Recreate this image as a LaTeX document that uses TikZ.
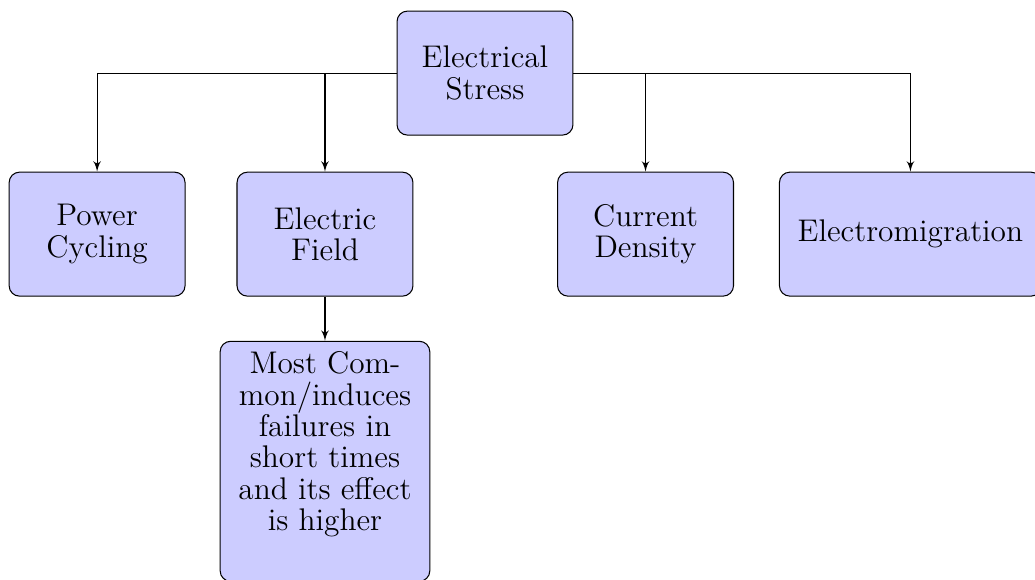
\documentclass[tikz,border=0pt]{standalone}
\usepackage{tikz}
\usetikzlibrary{arrows,shapes,positioning}

\begin{document}
\begin{tikzpicture}[->,>=latex',shorten >=0pt,auto,node distance=14pt,
		thin]
		\tikzstyle{ursache}=[rectangle,rounded corners,draw=black,fill=blue!20,inner xsep=7pt,inner ysep=4pt,minimum width=67.4pt,minimum height=47.5pt,align=center,font=\fontsize{12}{12}\selectfont]
		
		\useasboundingbox (-185.8pt,-193.9pt) rectangle (210.7pt,28pt);
		
		\node[ursache] (stress) {Electrical\\Stress};
		
		\node[ursache] (field) [below=13.8pt of stress, xshift=-61.3pt] {Electric\\Field};
		\node[ursache] (density) [below=13.8pt of stress, xshift=61.5pt] {Current\\Density};
		\node[ursache] (cycling) [left=19.5pt of field] {Power\\Cycling};
		\node[ursache] (migration) [right=17.2pt of density] {Electromigration};
		
		\node[ursache,text depth=15.5pt] (common) [below=16.9pt of field] {Most Com-\\mon/induces\\failures in\\short times\\and its effect\\is higher};
		
		\draw[->] (stress.west) -| (cycling.north);
		\draw[->] (stress.west) -| (field.north);
		\draw[->] (stress.east) -| (density.north);
		\draw[->] (stress.east) -| (migration.north);
		\draw[->] (field) -- (common);
	\end{tikzpicture}
\end{document}
